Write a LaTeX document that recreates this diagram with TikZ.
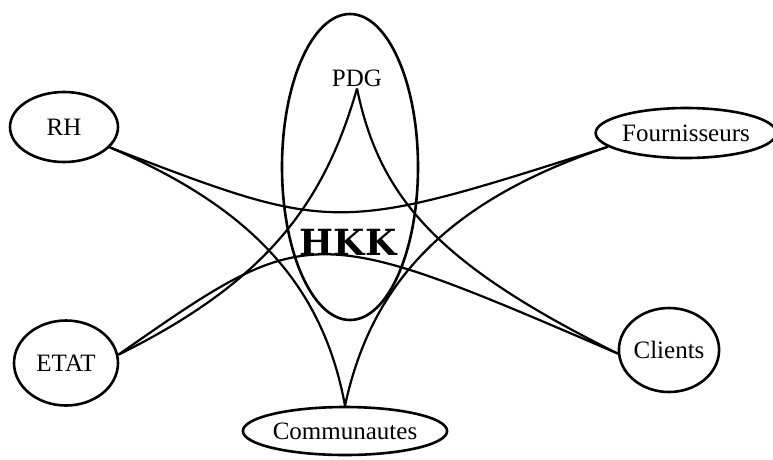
\documentclass[tikz,border=0pt]{standalone}
\usepackage{fontspec}
\setmainfont{Liberation Serif}
\newfontfamily\slabfont{DejaVu Serif}
\usepackage{tikz}
\usetikzlibrary{shapes.geometric, positioning}

\begin{document}
\begin{tikzpicture}[x=1pt, y=-1pt, line width=2.2pt,
    every node/.style={font=\fontsize{25}{30}\selectfont, inner sep=1pt},
    actor/.style={draw, ellipse, line width=2.6pt, inner sep=0pt}]
  \useasboundingbox (0,0) rectangle (773,459);
  % l'entreprise au centre
  \node[actor, minimum width=136pt, minimum height=306pt] (hkk) at (350,167) {};
  \node (pdg) at (357,78) {PDG};
  \node[font=\slabfont\bfseries\fontsize{36}{40}\selectfont] (nom) at (348,242) {HKK};
  % les partenaires
  \foreach \id/\x/\y/\w/\h/\txt in {
      rh/64/127/108/70/RH,
      et/66/363/104/85/ETAT,
      fo/686/133/162/50/Fournisseurs,
      cl/669/350/88/84/Clients,
      cm/345/431/203/48/Communautes}{
    \node[actor, minimum width=\w pt, minimum height=\h pt] (\id) at (\x,\y) {\txt};
  }
  % les liens
  \draw (rh.-24) .. controls (335,234) .. (fo.190);
  \draw (et.9) .. controls (310,221) .. (cl.184);
  \draw (pdg.south) .. controls (325,200) and (270,280) .. (et.9);
  \draw (pdg.south) .. controls (380,200) and (440,265) .. (cl.184);
  \draw (cm.north) .. controls (322,280) and (245,205) .. (rh.-24);
  \draw (cm.north) .. controls (372,280) and (450,200) .. (fo.190);
\end{tikzpicture}
\end{document}
